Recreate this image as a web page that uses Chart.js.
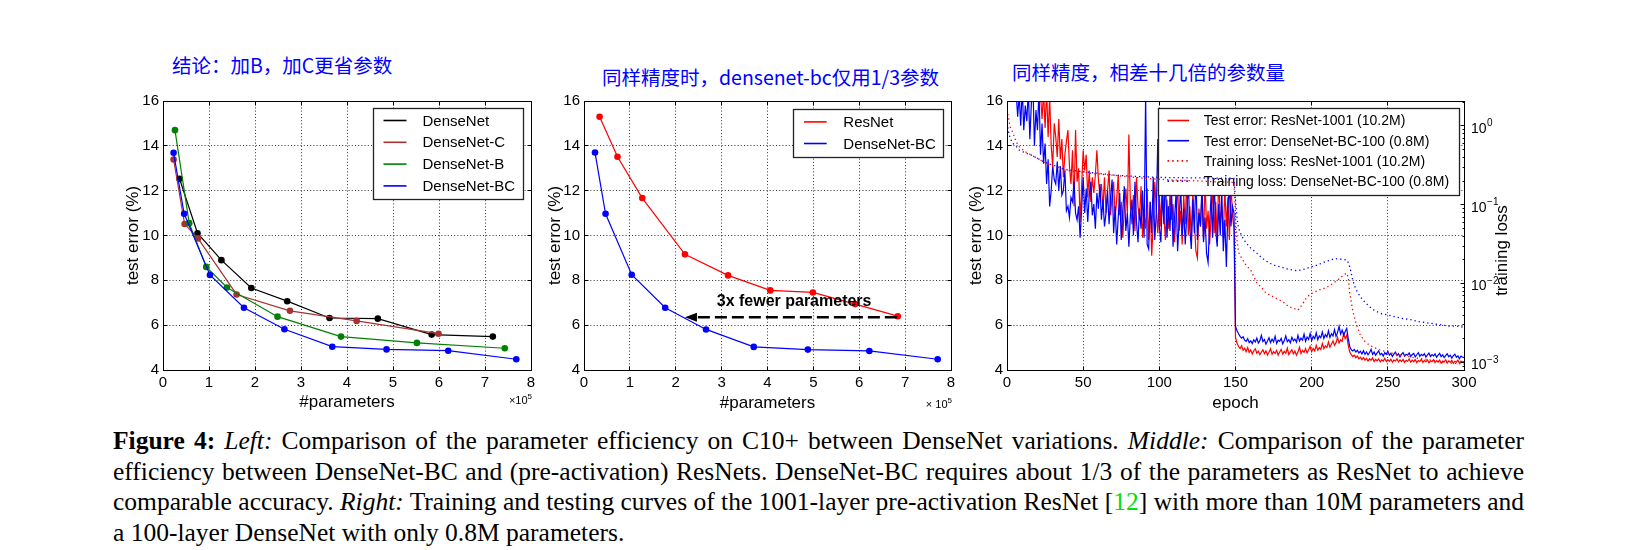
<!DOCTYPE html>
<html><head><meta charset="utf-8">
<script src="https://cdn.jsdelivr.net/npm/chart.js@4.4.1/dist/chart.umd.min.js"></script>
<style>
html,body{margin:0;padding:0;background:#fff;}
body{width:1640px;height:550px;position:relative;overflow:hidden;}
canvas{position:absolute;}
.title{position:absolute;font-family:"Noto Sans CJK SC";font-size:19.5px;line-height:20px;color:#0000ff;white-space:nowrap;}
.cap{position:absolute;left:113px;width:1411px;font-family:"Liberation Serif";font-size:25.5px;line-height:30.7px;white-space:nowrap;color:#000;}
.j{text-align:justify;text-align-last:justify;}
.g{color:#00e000;}
</style></head><body>
<div class="title" style="left:172px;top:55px">结论：加B，加C更省参数</div>
<div class="title" style="left:602px;top:67px">同样精度时，densenet-bc仅用1/3参数</div>
<div class="title" style="left:1012px;top:62px">同样精度，相差十几倍的参数量</div>

<canvas id="c1" width="460" height="335" style="left:100px;top:85px"></canvas>
<canvas id="c2" width="460" height="335" style="left:520px;top:85px"></canvas>
<canvas id="c3" width="580" height="335" style="left:940px;top:85px"></canvas>

<div class="cap j" style="top:425.7px"><b>Figure 4:</b> <i>Left:</i> Comparison of the parameter efficiency on C10+ between DenseNet variations. <i>Middle:</i> Comparison of the parameter</div>
<div class="cap j" style="top:456.7px">efficiency between DenseNet-BC and (pre-activation) ResNets. DenseNet-BC requires about 1/3 of the parameters as ResNet to achieve</div>
<div class="cap j" style="top:487.3px">comparable accuracy. <i>Right:</i> Training and testing curves of the 1001-layer pre-activation ResNet [<span class="g">12</span>] with more than 10M parameters and</div>
<div class="cap" style="top:518px">a 100-layer DenseNet with only 0.8M parameters.</div>

<script>
// ---------- Left panel data (#parameters in 1e5, test error %) ----------
const dnX   = [0.36, 0.75, 1.27, 1.92, 2.70, 3.62, 4.67, 5.84, 7.17];
const dnY   = [12.53, 10.10, 8.90, 7.66, 7.07, 6.32, 6.29, 5.58, 5.49];
const dncX  = [0.23, 0.47, 0.76, 1.60, 2.76, 4.21, 5.99];
const dncY  = [13.39, 10.51, 9.87, 7.37, 6.64, 6.19, 5.62];
const dnbX  = [0.26, 0.57, 0.94, 1.39, 2.49, 3.87, 5.52, 7.43];
const dnbY  = [14.70, 10.55, 8.60, 7.68, 6.38, 5.49, 5.21, 4.97];
const dnbcX = [0.23, 0.46, 1.02, 1.76, 2.64, 3.68, 4.86, 6.20, 7.68];
const dnbcY = [13.69, 10.97, 8.24, 6.78, 5.82, 5.04, 4.92, 4.86, 4.48];

// ---------- Middle panel data ----------
const resX = [0.34, 0.73, 1.27, 2.20, 3.14, 4.06, 4.99, 5.91, 6.84];
const resY = [15.30, 13.51, 11.67, 9.16, 8.22, 7.55, 7.46, 6.94, 6.40];
const bcX  = [0.24, 0.47, 1.04, 1.77, 2.66, 3.70, 4.88, 6.22, 7.71];
const bcY  = [13.70, 10.97, 8.25, 6.78, 5.81, 5.03, 4.91, 4.85, 4.48];
const arrowFrom = [6.82, 6.35];
const arrowTo   = [2.20, 6.35];
const noteText  = '3x fewer parameters';
const notePos   = [4.58, 7.07];

// ---------- Right panel data (per epoch test error %, epochs 0..300) ----------
const resTestA = [30,26,24,22,21,20,19.5,19,18.6,18.2,
18,17.7,17.5,17.3,17.2,17,16.9,16.8,16.7,16.6,
16.5,16.4,16.3,15.2,16.4,14.8,16.5,14.4,16.2,14.0,
13.1,15.0,14.4,13.5,15.2,13.4,14.3,12.6,13.6,14.2,
14.7,13.1,12.3,13.8,11.3,14.7,12.4,13.0,10.6,12.2,
13.8,12.9,13.6,11.7,12.9,11.5,12.6,11.9,12.7,13.8,
12.5,11.8,12.3,11.2,12.6,11.0,12.0,12.9,10.9,11.8,
12.4,10.8,11.6,12.7,10.9,11.5,9.9,11.2,12.1,11.0,
14.5,11.4,10.5,11.8,10.2,12.6,11.3,10.7,12.2,9.9,
11.0,10.3,12.1,9.8,11.5,9.1,10.6,12.4,11.2,10.1,
11.8,10.4,12.7,10.9,9.8,11.6,10.3,12.0,10.7,11.4,
9.7,10.9,12.3,10.2,11.1,9.6,11.8,10.5,12.6,10.0,
11.3,9.9,12.0,10.6,9.3,9.0,11.2,10.4,11.9,9.8,
12.5,10.3,11.1,9.6,10.8,12.2,10.1,11.5,9.7,12.8,
10.6,11.2,9.9,12.1,10.4,11.7,9.8,12.4,10.9,10.3];
const resTestB = [5.45,5.20,5.05,4.95,5.08,4.88,4.97,4.82,5.00,4.78,
4.90,4.72,4.86,4.95,4.75,4.84,4.68,4.80,4.90,4.73,
4.85,4.67,4.79,4.95,4.70,4.82,4.74,4.88,4.66,4.80,
4.92,4.71,4.83,4.75,4.98,4.69,4.81,4.90,4.72,4.85,
4.66,4.80,5.02,4.74,4.88,4.79,4.95,4.76,4.90,5.05,
4.82,4.96,4.85,5.10,4.88,5.00,4.92,5.18,4.95,5.08,
5.00,5.25,5.02,5.15,5.30,5.10,5.22,5.45,5.20,5.35,
5.28,5.62,5.40,5.55,5.10,4.80,4.68,4.60,4.66,4.55,
4.62,4.50,4.57,4.46,4.55,4.44,4.52,4.40,4.50,4.43,
4.54,4.38,4.47,4.41,4.50,4.36,4.45,4.40,4.52,4.37,
4.46,4.39,4.48,4.35,4.44,4.40,4.50,4.36,4.45,4.38,
4.47,4.34,4.43,4.39,4.49,4.35,4.44,4.37,4.46,4.33,
4.42,4.38,4.47,4.34,4.43,4.36,4.45,4.32,4.41,4.37,
4.46,4.33,4.42,4.35,4.44,4.31,4.40,4.36,4.45,4.32,
4.41,4.34,4.43,4.30,4.39,4.35,4.44,4.31,4.40,4.36,
4.38];
const dnTestA = [22,20,19,18,17.5,17,16.4,15.3,16.3,14.9,
16.6,14.7,15.8,15.1,16.5,14.3,15.9,16.8,14.0,15.6,
14.7,16.5,13.6,15.0,13.2,14.1,12.3,13.4,11.3,12.0,
13.1,12.5,12.3,13.3,12.0,13.1,11.8,12.0,12.9,11.1,
11.3,10.8,11.7,11.5,12.4,11.0,10.7,11.3,9.9,11.2,
12.6,11.0,12.1,10.6,11.8,12.4,10.9,11.4,10.3,11.9,
11.2,12.3,10.7,11.6,10.4,11.0,12.0,10.5,11.7,12.5,
10.1,11.3,9.6,10.8,11.9,9.8,11.1,12.2,10.2,11.0,
9.5,10.9,11.6,10.0,12.4,10.6,9.7,11.2,10.3,12.0,
9.9,16.3,9.6,9.4,11.5,10.1,12.6,9.8,11.0,14.3,
10.4,9.7,11.8,10.5,12.9,9.9,11.3,10.2,12.1,9.5,
10.8,11.9,9.3,10.6,12.3,10.0,11.2,9.6,10.9,12.5,
10.3,9.4,11.6,10.1,12.8,9.8,11.0,10.4,12.2,9.7,
10.8,9.2,8.8,10.5,11.8,9.9,12.6,10.2,9.5,11.4,
10.0,12.0,9.3,10.7,8.6,11.2,12.3,10.4,11.3,11.0];
const dnTestB = [5.95,5.75,5.62,5.50,5.42,5.48,5.33,5.28,5.40,5.22,
5.30,5.18,5.35,5.25,5.42,5.20,5.31,5.55,5.27,5.36,
5.15,5.29,5.44,5.22,5.38,5.25,5.50,5.19,5.33,5.28,
5.41,5.17,5.30,5.52,5.26,5.35,5.21,5.46,5.30,5.38,
5.24,5.55,5.29,5.42,5.33,5.60,5.28,5.47,5.36,5.62,
5.31,5.50,5.40,5.66,5.35,5.52,5.44,5.70,5.41,5.58,
5.47,5.75,5.45,5.62,5.52,5.80,5.50,5.68,5.95,5.60,
5.78,5.55,5.72,5.85,5.40,5.05,4.90,4.85,4.92,4.80,
4.88,4.76,4.84,4.72,4.86,4.70,4.81,4.68,4.78,4.92,
4.70,4.80,4.66,4.76,4.85,4.68,4.74,4.62,4.78,4.70,
4.84,4.66,4.74,4.60,4.72,4.80,4.64,4.73,4.58,4.70,
4.78,4.62,4.70,4.66,4.76,4.60,4.69,4.74,4.59,4.68,
4.77,4.61,4.70,4.64,4.73,4.58,4.67,4.75,4.60,4.69,
4.63,4.72,4.57,4.66,4.74,4.60,4.68,4.55,4.65,4.72,
4.59,4.66,4.53,4.64,4.70,4.57,4.63,4.50,4.62,4.58,
4.55];
// training loss (log axis), sampled epochs
const lossEpochs = [0,1,2,4,6,8,12,16,20,24,30,36,40,46,50,60,70,80,90,100,110,120,130,140,149,
150,151,152,154,157,160,164,167,170,173,176,179,182,185,188,191,194,197,200,203,206,209,212,215,218,
221,223,224,225,227,229,232,235,238,241,245,250,255,260,265,270,275,280,285,290,295,300];
const resLoss = [1.60,1.25,0.98,0.81,0.63,0.546,0.472,0.428,0.389,0.352,
0.31,0.282,0.272,0.263,0.258,0.246,0.237,0.227,0.217,0.211,
0.206,0.203,0.199,0.195,0.193,
0.0743,0.0357,0.0250,0.0211,0.0170,0.0149,0.0102,0.0090,0.0076,0.0071,
0.0066,0.0062,0.0057,0.0051,0.0049,0.0046,0.0055,0.0068,0.0075,0.0080,
0.0085,0.0088,0.0095,0.0104,0.0115,0.0129,0.0136,0.0120,0.0076,0.0045,
0.0032,0.0022,0.00185,0.00165,0.00155,0.00144,0.00135,0.00128,0.00122,0.00117,
0.00113,0.00110,0.00106,0.00101,0.00099,0.00097,0.00095];
const dnLoss = [1.09,0.85,0.70,0.60,0.55,0.496,0.455,0.428,0.389,0.352,
0.32,0.290,0.277,0.269,0.263,0.251,0.239,0.232,0.227,0.223,
0.221,0.220,0.219,0.218,0.217,
0.115,0.068,0.0508,0.0402,0.0327,0.0283,0.0244,0.0215,0.0194,0.0180,
0.0170,0.0164,0.0158,0.0152,0.0148,0.0146,0.0150,0.0157,0.0164,0.0170,
0.0180,0.0190,0.0198,0.0209,0.0205,0.0203,0.0200,0.0185,0.0164,0.0110,
0.0085,0.0068,0.0058,0.0051,0.0046,0.0042,0.0040,0.0038,0.0036,0.0035,
0.0033,0.0032,0.0031,0.0030,0.0029,0.0029,0.0028];
const lossTickExps = [0, -1, -2, -3];

// ---------- helpers ----------
const FONT = '"Liberation Sans", Arial, sans-serif';
const pts = (xs, ys) => xs.map((x, i) => ({x: x, y: ys[i]}));
const seq = (ys) => ys.map((y, i) => ({x: i, y: y}));
function alignPx(p) { return Math.round(p - 0.5) + 0.5; }

function frameTicks(chart, y2Id) {
  const ctx = chart.ctx, a = chart.chartArea;
  const L = alignPx(a.left), R = alignPx(a.right), T = alignPx(a.top), B = alignPx(a.bottom);
  ctx.save();
  ctx.strokeStyle = '#000'; ctx.lineWidth = 1; ctx.setLineDash([]);
  ctx.beginPath();
  const xs = chart.scales.x, ys = chart.scales.y;
  xs.ticks.forEach(t => { const p = alignPx(xs.getPixelForValue(t.value));
    ctx.moveTo(p, B); ctx.lineTo(p, B - 4); ctx.moveTo(p, T); ctx.lineTo(p, T + 4); });
  ys.ticks.forEach(t => { const p = alignPx(ys.getPixelForValue(t.value));
    ctx.moveTo(L, p); ctx.lineTo(L + 4, p);
    if (!y2Id) { ctx.moveTo(R, p); ctx.lineTo(R - 4, p); } });
  if (y2Id) {
    const s2 = chart.scales[y2Id];
    for (let d = -4; d <= 1; d++) for (let k = 1; k <= 9; k++) {
      const v = k * Math.pow(10, d);
      if (v < s2.min || v > s2.max) continue;
      const p = alignPx(s2.getPixelForValue(v));
      ctx.moveTo(R, p); ctx.lineTo(R - (k === 1 ? 4 : 2), p);
    }
  }
  ctx.stroke();
  ctx.strokeRect(L, T, R - L, B - T);
  ctx.restore();
}

function drawLegend(chart, spec) {
  const ctx = chart.ctx, a = chart.chartArea;
  ctx.save();
  ctx.font = spec.fontSize + 'px ' + FONT;
  const items = chart.data.datasets;
  const maxW = Math.max(...items.map(d => ctx.measureText(d.label).width));
  const w = spec.padL + spec.lineLen + spec.gap + maxW + spec.padR;
  const h = spec.firstOff + (items.length - 1) * spec.rowH + spec.lastPad;
  const x0 = Math.round(a.right - spec.insetR - w) + 0.5, y0 = Math.round(a.top + spec.insetT) + 0.5;
  ctx.fillStyle = '#fff'; ctx.fillRect(x0, y0, w, h);
  ctx.strokeStyle = '#222'; ctx.lineWidth = 1.3; ctx.setLineDash([]);
  ctx.strokeRect(x0, y0, Math.round(w), Math.round(h));
  items.forEach((d, j) => {
    const yy = y0 + spec.firstOff + j * spec.rowH;
    ctx.strokeStyle = d.borderColor; ctx.lineWidth = spec.sampleW;
    ctx.setLineDash(d.borderDash ? d.legendDash : []);
    ctx.beginPath(); ctx.moveTo(x0 + spec.padL, yy); ctx.lineTo(x0 + spec.padL + spec.lineLen, yy); ctx.stroke();
    ctx.setLineDash([]);
    ctx.fillStyle = '#000'; ctx.textBaseline = 'middle'; ctx.textAlign = 'left';
    ctx.fillText(d.label, x0 + spec.padL + spec.lineLen + spec.gap, yy + 1);
  });
  ctx.restore();
}

function drawExp(ctx, base, exp, xRight, baseline, bs, es, rise) {
  ctx.save();
  ctx.fillStyle = '#000'; ctx.textBaseline = 'alphabetic'; ctx.textAlign = 'left';
  ctx.font = es + 'px ' + FONT; const ew = ctx.measureText(exp).width;
  ctx.font = bs + 'px ' + FONT; const bw = ctx.measureText(base).width;
  const x0 = xRight - ew - bw;
  ctx.fillText(base, x0, baseline);
  ctx.font = es + 'px ' + FONT;
  ctx.fillText(exp, x0 + bw, baseline - rise);
  ctx.restore();
}

function axisCfg(min, max, step, title, titlePad, fitSize, isX) {
  return {
    type: 'linear', min: min, max: max,
    ticks: {stepSize: step, color: '#000', font: {family: FONT, size: 15}, padding: 4, maxRotation: 0, autoSkip: false},
    grid: {color: 'rgba(0,0,0,0.8)', lineWidth: 1, drawTicks: false},
    border: {display: false, dash: [1, 2.2]},
    title: {display: true, text: title, color: '#000', font: {family: FONT, size: 17}, padding: titlePad},
    afterFit: s => { if (isX) s.height = fitSize; else s.width = fitSize; }
  };
}

const common = {
  responsive: false, animation: false, events: [], devicePixelRatio: 1,
  plugins: {legend: {display: false}, tooltip: {enabled: false}},
  elements: {line: {borderWidth: 1.2, tension: 0}, point: {radius: 3.3, borderWidth: 0, hoverRadius: 3.3}}
};

function ds(label, data, color, order) {
  return {label: label, data: data, borderColor: color, backgroundColor: color,
          pointBackgroundColor: color, order: order};
}

// ---------- Left chart ----------
new Chart(document.getElementById('c1'), {
  type: 'line',
  data: {datasets: [
    ds('DenseNet', pts(dnX, dnY), '#000000', 4),
    ds('DenseNet-C', pts(dncX, dncY), '#a83232', 3),
    ds('DenseNet-B', pts(dnbX, dnbY), '#008000', 2),
    ds('DenseNet-BC', pts(dnbcX, dnbcY), '#0000ff', 1)
  ]},
  options: Object.assign({}, common, {
    layout: {padding: {left: 0, top: 16, right: 29, bottom: 0}},
    scales: {
      x: axisCfg(0, 8, 1, '#parameters', {top: 0, bottom: 7.8}, 50, true),
      y: axisCfg(4, 16, 2, 'test error (%)', {top: 22.8, bottom: 0}, 63, false)
    }
  }),
  plugins: [{id: 'deco1', afterDatasetsDraw(chart) {
    frameTicks(chart);
    drawLegend(chart, {fontSize: 15, padL: 10, lineLen: 23, gap: 16, padR: 8, firstOff: 12, rowH: 21.8, lastPad: 14, insetR: 8, insetT: 7, sampleW: 1.6});
    drawExp(chart.ctx, '\u00d710', '5', chart.chartArea.right + 1, chart.chartArea.bottom + 34, 11, 8, 5);
  }}]
});

// ---------- Middle chart ----------
new Chart(document.getElementById('c2'), {
  type: 'line',
  data: {datasets: [
    ds('ResNet', pts(resX, resY), '#ff0000', 2),
    ds('DenseNet-BC', pts(bcX, bcY), '#0000ff', 1)
  ]},
  options: Object.assign({}, common, {
    layout: {padding: {left: 0, top: 16, right: 29, bottom: 0}},
    scales: {
      x: axisCfg(0, 8, 1, '#parameters', {top: 0, bottom: 6.5}, 50, true),
      y: axisCfg(4, 16, 2, 'test error (%)', {top: 25.6, bottom: 0}, 64, false)
    }
  }),
  plugins: [{id: 'deco2', afterDatasetsDraw(chart) {
    const ctx = chart.ctx, xs = chart.scales.x, ys = chart.scales.y;
    const x1 = xs.getPixelForValue(arrowFrom[0]), y1 = ys.getPixelForValue(arrowFrom[1]);
    const x2 = xs.getPixelForValue(arrowTo[0]), y2 = ys.getPixelForValue(arrowTo[1]);
    ctx.save();
    ctx.strokeStyle = '#000'; ctx.lineWidth = 2.6; ctx.setLineDash([12, 5]);
    ctx.beginPath(); ctx.moveTo(x1, y1); ctx.lineTo(x2 + 12, y2); ctx.stroke();
    ctx.setLineDash([]); ctx.fillStyle = '#000';
    ctx.beginPath(); ctx.moveTo(x2, y2); ctx.lineTo(x2 + 12, y2 - 4.5); ctx.lineTo(x2 + 12, y2 + 4.5); ctx.closePath(); ctx.fill();
    ctx.font = 'bold 16px ' + FONT; ctx.textAlign = 'center'; ctx.textBaseline = 'middle';
    ctx.fillText(noteText, xs.getPixelForValue(notePos[0]), ys.getPixelForValue(notePos[1]));
    ctx.restore();
    frameTicks(chart);
    drawLegend(chart, {fontSize: 15, padL: 10.5, lineLen: 22.7, gap: 16.6, padR: 7.5, firstOff: 12.4, rowH: 21.6, lastPad: 14.4, insetR: 8, insetT: 8, sampleW: 1.6});
    drawExp(chart.ctx, '\u00d7 10', '5', chart.chartArea.right + 1, chart.chartArea.bottom + 38, 11, 8, 5);
  }}]
});

// ---------- Right chart ----------
const resTest = resTestA.concat(resTestB);
const dnTest = dnTestA.concat(dnTestB);
new Chart(document.getElementById('c3'), {
  type: 'line',
  data: {datasets: [
    {label: 'Test error: ResNet-1001 (10.2M)', data: seq(resTest), borderColor: '#ff0000', borderWidth: 1.2, pointRadius: 0, yAxisID: 'y', order: 4},
    {label: 'Test error: DenseNet-BC-100 (0.8M)', data: seq(dnTest), borderColor: '#0000ff', borderWidth: 1.2, pointRadius: 0, yAxisID: 'y', order: 3},
    {label: 'Training loss: ResNet-1001 (10.2M)', data: pts(lossEpochs, resLoss), borderColor: '#ff0000', borderWidth: 1.3, borderDash: [1.3, 3], legendDash: [1.5, 3.2], pointRadius: 0, yAxisID: 'y2', order: 2},
    {label: 'Training loss: DenseNet-BC-100 (0.8M)', data: pts(lossEpochs, dnLoss), borderColor: '#0000ff', borderWidth: 1.3, borderDash: [1.3, 3], legendDash: [1.5, 3.2], pointRadius: 0, yAxisID: 'y2', order: 1}
  ]},
  options: Object.assign({}, common, {
    layout: {padding: {left: 0, top: 16, right: 0, bottom: 0}},
    scales: {
      x: axisCfg(0, 300, 50, 'epoch', {top: 0, bottom: 6.8}, 50, true),
      y: axisCfg(4, 16, 2, 'test error (%)', {top: 26.1, bottom: 0}, 67, false),
      y2: {
        type: 'logarithmic', position: 'right', min: 0.000803, max: 2.075,
        ticks: {display: false}, grid: {display: false}, border: {display: false},
        afterBuildTicks: s => { s.ticks = lossTickExps.map(e => ({value: Math.pow(10, e)})); },
        afterFit: s => { s.width = 56; }
      }
    }
  }),
  plugins: [{id: 'deco3',
    afterDatasetDraw(chart, args) {
      if (args.index === 1) {
        drawLegend(chart, {fontSize: 14, padL: 9, lineLen: 21.6, gap: 14.7, padR: 10, firstOff: 12, rowH: 20.2, lastPad: 14, insetR: 5, insetT: 7, sampleW: 1.6});
      }
    },
    afterDatasetsDraw(chart) {
      frameTicks(chart, 'y2');
      const ctx = chart.ctx, a = chart.chartArea, s2 = chart.scales.y2;
      ctx.save();
      ctx.fillStyle = '#000'; ctx.textAlign = 'left'; ctx.textBaseline = 'alphabetic';
      lossTickExps.forEach(e => {
        const p = s2.getPixelForValue(Math.pow(10, e));
        ctx.font = '14px ' + FONT;
        ctx.fillText('10', a.right + 7, p + 6.7);
        const w = ctx.measureText('10').width;
        ctx.font = '10px ' + FONT;
        ctx.fillText(e === 0 ? '0' : '\u2212' + (-e), a.right + 7 + w + 0.5, p + 0.3);
      });
      ctx.font = '17px ' + FONT; ctx.textAlign = 'center'; ctx.textBaseline = 'middle';
      ctx.translate(a.right + 38, (a.top + a.bottom) / 2 + 15);
      ctx.rotate(-Math.PI / 2);
      ctx.fillText('training loss', 0, 0);
      ctx.restore();
    }
  }]
});
</script>
</body></html>
